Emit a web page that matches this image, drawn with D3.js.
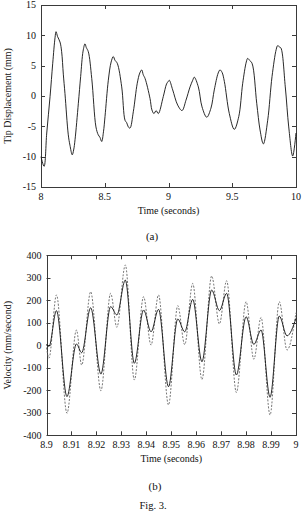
<!DOCTYPE html>
<html><head><meta charset="utf-8">
<script src="https://cdn.jsdelivr.net/npm/d3@7"></script>
<style>
html,body{margin:0;padding:0;background:#fff;}
svg{display:block;}
text{font-family:"Liberation Serif","Times New Roman",serif;fill:#111;}
</style></head>
<body>
<script>
// ---- Data: (a) tip displacement ----
const dispTime = [8.000,8.024,8.045,8.071,8.092,8.110,8.118,8.130,8.149,8.162,8.175,8.188,8.214,8.227,8.245,8.256,8.267,8.293,8.311,8.330,8.345,8.355,8.371,8.398,8.431,8.449,8.462,8.476,8.490,8.502,8.528,8.550,8.567,8.580,8.598,8.633,8.659,8.672,8.685,8.698,8.724,8.755,8.775,8.790,8.802,8.816,8.855,8.870,8.886,8.903,8.920,8.959,8.985,8.998,9.006,9.033,9.072,9.106,9.137,9.169,9.190,9.202,9.234,9.263,9.300,9.333,9.359,9.390,9.404,9.420,9.438,9.477,9.516,9.551,9.582,9.610,9.621,9.635,9.655,9.692,9.718,9.744,9.778,9.812,9.845,9.856,9.870,9.882,9.916,9.943,9.974,10.000];
const dispVal  = [-10.0,-11.6,-6.1,-0.1,5.4,9.6,10.6,9.8,8.9,7.3,3.6,0.4,-6.4,-8.1,-9.7,-8.9,-7.2,-1.2,3.2,7.4,8.6,8.0,7.3,2.9,-5.1,-6.4,-6.8,-7.5,-5.9,-3.4,2.6,5.6,6.5,5.9,5.4,1.5,-4.0,-4.4,-5.1,-5.3,-2.6,2.1,3.8,4.3,3.5,2.9,-0.4,-2.3,-2.9,-2.4,-2.9,-0.1,2.0,2.4,2.6,1.0,-1.5,-2.4,-0.7,1.5,2.6,3.1,1.5,-1.8,-3.5,-2.0,1.0,3.8,4.3,3.9,2.4,-2.9,-5.5,-3.4,2.1,5.6,6.2,5.9,5.4,-1.2,-5.6,-7.9,-4.0,3.2,7.7,8.3,8.1,7.9,1.5,-5.1,-9.9,-6.1];
const dispXTicks = [8, 8.5, 9, 9.5, 10];
const dispXLabels = ["8","8.5","9","9.5","10"];
const dispYTicks = [-15,-10,-5,0,5,10,15];
const dispYLabels = ["-15","-10","-5","0","5","10","15"];

// ---- Data: (b) velocity ----
const velTime   = [8.9000,8.9010,8.9040,8.9082,8.9120,8.9141,8.9177,8.9218,8.9257,8.9282,8.9316,8.9352,8.9389,8.9419,8.9449,8.9489,8.9526,8.9554,8.9586,8.9623,8.9662,8.9693,8.9722,8.9761,8.9800,8.9831,8.9860,8.9896,8.9933,8.9964,9.0000];
const velSolid  = [5,-5,154,-228,6,-33,167,-128,172,135,290,-80,157,60,160,-184,117,60,204,-73,246,154,231,-132,127,4,68,-231,130,42,120];
const velDashed = [-10,-57,224,-302,68,-88,238,-202,231,80,357,-154,216,1,224,-265,176,3,275,-152,308,95,287,-210,194,-62,124,-310,194,-21,145];
const velXTicks = [8.9,8.91,8.92,8.93,8.94,8.95,8.96,8.97,8.98,8.99,9];
const velXLabels = ["8.9","8.91","8.92","8.93","8.94","8.95","8.96","8.97","8.98","8.99","9"];
const velYTicks = [-400,-300,-200,-100,0,100,200,300,400];
const velYLabels = ["-400","-300","-200","-100","0","100","200","300","400"];

const W = 302, H = 521;
const svg = d3.select("body").append("svg").attr("width", W).attr("height", H);

function panel(cfg) {
  const x = d3.scaleLinear().domain(cfg.xDomain).range([cfg.left, cfg.right]);
  const y = d3.scaleLinear().domain(cfg.yDomain).range([cfg.bottom, cfg.top]);
  const g = svg.append("g");
  const tl = 4;
  const frameCol = "#3a3a3a";

  // ticks (inward, mirrored on all sides)
  const tickG = g.append("g").attr("stroke", frameCol).attr("stroke-width", 1);
  cfg.xTicks.forEach(v => {
    const px = Math.round(x(v)) + 0.5;
    tickG.append("line").attr("x1", px).attr("x2", px).attr("y1", cfg.bottom).attr("y2", cfg.bottom - tl);
    tickG.append("line").attr("x1", px).attr("x2", px).attr("y1", cfg.top).attr("y2", cfg.top + tl);
  });
  cfg.yTicks.forEach(v => {
    const py = Math.round(y(v)) + 0.5;
    tickG.append("line").attr("x1", cfg.left).attr("x2", cfg.left + tl).attr("y1", py).attr("y2", py);
    tickG.append("line").attr("x1", cfg.right).attr("x2", cfg.right - tl).attr("y1", py).attr("y2", py);
  });

  // tick labels
  g.append("g").selectAll("text").data(cfg.xTicks).join("text")
    .attr("x", d => x(d)).attr("y", cfg.bottom + 13)
    .attr("text-anchor", "middle").attr("font-size", cfg.fs)
    .text((d, i) => cfg.xLabels[i]);
  g.append("g").selectAll("text").data(cfg.yTicks).join("text")
    .attr("x", cfg.left - 5).attr("y", d => y(d)).attr("dy", "0.33em")
    .attr("text-anchor", "end").attr("font-size", cfg.fs)
    .text((d, i) => cfg.yLabels[i]);

  // axis titles
  g.append("text").attr("x", (cfg.left + cfg.right) / 2 + cfg.xTitleDx).attr("y", cfg.bottom + 27)
    .attr("text-anchor", "middle").attr("font-size", cfg.fs).text(cfg.xTitle);
  g.append("text").attr("transform", `translate(${cfg.yTitleX},${(cfg.top + cfg.bottom) / 2}) rotate(-90)`)
    .attr("text-anchor", "middle").attr("font-size", cfg.fs).text(cfg.yTitle);

  // frame
  g.append("rect").attr("x", Math.round(cfg.left) + 0.5).attr("y", Math.round(cfg.top) + 0.5)
    .attr("width", Math.round(cfg.right) - Math.round(cfg.left)).attr("height", Math.round(cfg.bottom) - Math.round(cfg.top))
    .attr("fill", "none").attr("stroke", frameCol).attr("stroke-width", 1);

  return {x, y, g};
}

// Panel (a)
const pa = panel({
  left: 41, right: 296, top: 5, bottom: 187,
  xDomain: [8, 10], yDomain: [-15, 15],
  xTicks: dispXTicks, xLabels: dispXLabels, yTicks: dispYTicks, yLabels: dispYLabels,
  xTitle: "Time (seconds)", yTitle: "Tip Displacement (mm)", yTitleX: 11, xTitleDx: 0, fs: 10
});
const dispData = dispTime.map((t, i) => [t, dispVal[i]]);
pa.g.append("path").datum(dispData)
  .attr("fill", "none").attr("stroke", "#111").attr("stroke-width", 0.9)
  .attr("d", d3.line().x(d => pa.x(d[0])).y(d => pa.y(d[1])).curve(d3.curveCatmullRom.alpha(0.5)));
svg.append("text").attr("x", 152).attr("y", 240).attr("text-anchor", "middle").attr("font-size", 11).text("(a)");

// Panel (b)
const pb = panel({
  left: 46.5, right: 296, top: 255.3, bottom: 435.3,
  xDomain: [8.9, 9.0], yDomain: [-400, 400],
  xTicks: velXTicks, xLabels: velXLabels, yTicks: velYTicks, yLabels: velYLabels,
  xTitle: "Time (seconds)", yTitle: "Velocity (mm/second)", yTitleX: 11, xTitleDx: 0, fs: 10
});
const lineB = d3.line().x(d => pb.x(d[0])).y(d => pb.y(d[1])).curve(d3.curveMonotoneX);
pb.g.append("path").datum(velTime.map((t, i) => [t, velDashed[i]]))
  .attr("fill", "none").attr("stroke", "#666").attr("stroke-width", 0.9)
  .attr("stroke-dasharray", "2,1.5").attr("d", lineB);
pb.g.append("path").datum(velTime.map((t, i) => [t, velSolid[i]]))
  .attr("fill", "none").attr("stroke", "#111").attr("stroke-width", 0.9).attr("d", lineB);
svg.append("text").attr("x", 155).attr("y", 490).attr("text-anchor", "middle").attr("font-size", 11).text("(b)");
svg.append("text").attr("x", 153).attr("y", 509).attr("text-anchor", "middle").attr("font-size", 10.5).text("Fig. 3.");
</script>
</body></html>
